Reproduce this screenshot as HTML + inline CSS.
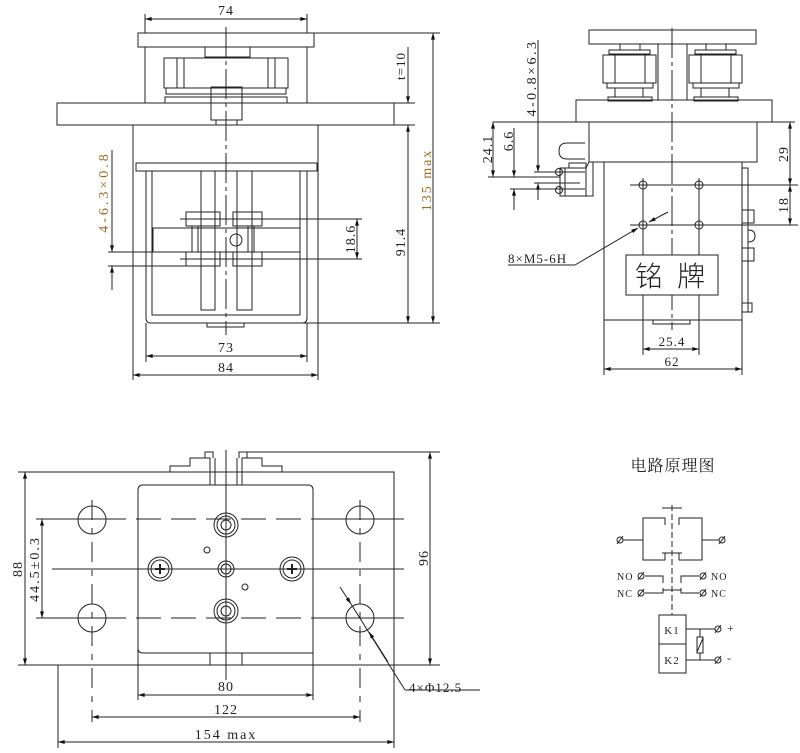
<!DOCTYPE html>
<html><head><meta charset="utf-8"><style>
html,body{margin:0;padding:0;background:#fff;}
svg{display:block;}
text{font-family:"Liberation Serif","Noto Serif CJK SC",serif;fill:#222;letter-spacing:1px;}
</style></head><body>
<svg width="800" height="753" viewBox="0 0 800 753" xmlns="http://www.w3.org/2000/svg">
<defs>
<marker id="a" viewBox="0 0 10 6" refX="10" refY="3" markerWidth="7" markerHeight="4" orient="auto-start-reverse" markerUnits="userSpaceOnUse"><path d="M0,0 L10,3 L0,6 z" fill="#111"/></marker>
</defs>
<g fill="none" stroke="#222" stroke-width="1">
<!-- ========== FRONT VIEW ========== -->
<rect x="138" y="33" width="176" height="14"/>
<line x1="145" y1="47" x2="145" y2="103"/><line x1="307" y1="47" x2="307" y2="103"/>
<rect x="205" y="47" width="45" height="10"/>
<rect x="164" y="58" width="124" height="30"/>
<line x1="177" y1="58" x2="177" y2="88"/><line x1="275" y1="58" x2="275" y2="88"/>
<line x1="184" y1="58" x2="184" y2="88"/><line x1="268" y1="58" x2="268" y2="88"/>
<rect x="166" y="88" width="120" height="6"/>
<rect x="165" y="97" width="122" height="6"/>
<rect x="57" y="103" width="337" height="22"/>
<rect x="211" y="87" width="31" height="33"/>
<rect x="216" y="120" width="21" height="5"/>
<line x1="133" y1="125" x2="133" y2="380"/><line x1="318" y1="125" x2="318" y2="380"/>
<rect x="136" y="163" width="181" height="8"/>
<path d="M146,171 V318 Q146,323 151,323 H302 Q307,323 307,318 V171"/>
<rect x="152" y="171" width="148" height="144"/>
<rect x="207" y="323" width="37" height="4"/>
<rect x="153" y="228" width="147" height="24"/>
<rect x="201" y="171" width="14" height="139"/><rect x="237" y="171" width="15" height="139"/>
<rect x="186" y="212" width="34" height="14"/><rect x="186" y="252" width="34" height="14"/>
<rect x="233" y="212" width="29" height="14"/><rect x="233" y="252" width="29" height="14"/>
<rect x="192" y="226" width="6" height="26"/><rect x="248" y="226" width="6" height="26"/>
<circle cx="236" cy="240" r="6"/>
<line x1="226" y1="27" x2="226" y2="335" stroke-dasharray="30,4,4,4"/>
<!-- dims front -->
<line x1="145" y1="19" x2="307" y2="19" marker-start="url(#a)" marker-end="url(#a)"/>
<line x1="145" y1="14" x2="145" y2="33"/><line x1="307" y1="14" x2="307" y2="33"/>
<line x1="314" y1="33" x2="440" y2="33"/>
<line x1="394" y1="103" x2="415" y2="103"/><line x1="394" y1="125" x2="415" y2="125"/>
<line x1="408" y1="47" x2="408" y2="103" marker-end="url(#a)"/>
<line x1="408" y1="125" x2="408" y2="323" marker-start="url(#a)" marker-end="url(#a)"/>
<line x1="433" y1="33" x2="433" y2="323" marker-start="url(#a)" marker-end="url(#a)"/>
<line x1="300" y1="323" x2="440" y2="323"/>
<line x1="180" y1="219" x2="362" y2="219"/><line x1="180" y1="259" x2="362" y2="259"/>
<line x1="357" y1="219" x2="357" y2="259" marker-start="url(#a)" marker-end="url(#a)"/>
<line x1="108" y1="252" x2="200" y2="252"/><line x1="108" y1="266" x2="200" y2="266"/>
<line x1="112" y1="150" x2="112" y2="252" marker-end="url(#a)"/>
<line x1="112" y1="266" x2="112" y2="290" marker-start="url(#a)"/>
<line x1="146" y1="323" x2="146" y2="362"/><line x1="307" y1="323" x2="307" y2="362"/>
<line x1="146" y1="356" x2="307" y2="356" marker-start="url(#a)" marker-end="url(#a)"/>
<line x1="133" y1="375" x2="318" y2="375" marker-start="url(#a)" marker-end="url(#a)"/>

<!-- ========== SIDE VIEW ========== -->
<rect x="589" y="30" width="167" height="14"/>
<line x1="658" y1="44" x2="658" y2="100"/><line x1="687" y1="44" x2="687" y2="100"/>
<g id="nut">
<rect x="620" y="44" width="20" height="6"/>
<rect x="609" y="50" width="41" height="4"/>
<rect x="603" y="55" width="53" height="28"/>
<line x1="615" y1="55" x2="615" y2="83"/><line x1="645" y1="55" x2="645" y2="83"/>
<rect x="607" y="83" width="46" height="5"/>
<rect x="615" y="88" width="28" height="9"/>
<rect x="608" y="97" width="44" height="4"/>
</g>
<use href="#nut" x="86"/>
<rect x="576" y="100" width="196" height="22"/>
<line x1="493" y1="122" x2="795" y2="122"/>
<rect x="589" y="122" width="168" height="40"/>
<rect x="604" y="162" width="138" height="158"/>
<line x1="604" y1="320" x2="604" y2="375"/><line x1="742" y1="320" x2="742" y2="375"/>
<rect x="653" y="320" width="37" height="4"/>
<rect x="742" y="168" width="6" height="144"/>
<rect x="742" y="210" width="12" height="13"/><rect x="742" y="248" width="12" height="13"/>
<path d="M748,230 q7,0 7,6 q0,6 -7,6"/>
<rect x="742" y="303" width="10" height="9"/>
<path d="M585,143 H567 q-8,0 -8,8 q0,8 8,8 H585"/>
<rect x="569" y="163" width="17" height="5"/>
<rect x="560" y="168" width="26" height="28"/>
<line x1="586" y1="168" x2="586" y2="196"/>
<path d="M589,162 L586,168 M593,162 V196 H586"/>
<circle cx="559" cy="172" r="3.5"/><circle cx="559" cy="190" r="3.5"/>
<line x1="565" y1="168" x2="565" y2="196"/>
<line x1="672" y1="28" x2="672" y2="330" stroke-dasharray="30,4,4,4"/>
<circle cx="643" cy="185" r="4"/><circle cx="699" cy="185" r="4"/>
<circle cx="643" cy="225" r="4"/><circle cx="699" cy="225" r="4"/>
<line x1="643" y1="178" x2="643" y2="355"/><line x1="699" y1="178" x2="699" y2="355"/>
<line x1="630" y1="185" x2="798" y2="185"/><line x1="630" y1="225" x2="798" y2="225"/>
<rect x="626" y="255" width="92" height="40" fill="#fff"/>
<line x1="790" y1="122" x2="790" y2="185" marker-start="url(#a)" marker-end="url(#a)"/>
<line x1="790" y1="185" x2="790" y2="225" marker-start="url(#a)" marker-end="url(#a)"/>
<line x1="643" y1="349" x2="699" y2="349" marker-start="url(#a)" marker-end="url(#a)"/>
<line x1="604" y1="369" x2="742" y2="369" marker-start="url(#a)" marker-end="url(#a)"/>
<line x1="493" y1="122" x2="493" y2="177" marker-start="url(#a)" marker-end="url(#a)"/>
<line x1="488" y1="177" x2="560" y2="177"/>
<line x1="514" y1="128" x2="514" y2="177" marker-end="url(#a)"/>
<line x1="514" y1="189" x2="514" y2="210" marker-start="url(#a)"/>
<line x1="510" y1="189" x2="585" y2="189"/>
<line x1="538" y1="40" x2="538" y2="172" marker-end="url(#a)"/>
<line x1="538" y1="183" x2="538" y2="200" marker-start="url(#a)"/>
<line x1="534" y1="172" x2="585" y2="172"/>
<line x1="534" y1="183" x2="580" y2="183"/>
<line x1="508" y1="265" x2="575" y2="265"/><line x1="575" y1="265" x2="638" y2="228" marker-end="url(#a)"/>
<line x1="668" y1="212" x2="649" y2="222" marker-end="url(#a)"/>

<!-- ========== BOTTOM VIEW ========== -->
<path d="M58,472 H394 V665 H242 M210,665 H58 Z"/>
<path d="M138,653 V490 Q138,485 143,485 H308 Q313,485 313,490 V653 Q313,653 308,653 H143 Q138,653 138,648"/>
<line x1="210" y1="653" x2="210" y2="665"/><line x1="242" y1="653" x2="242" y2="665"/>
<line x1="138" y1="653" x2="138" y2="700"/><line x1="313" y1="653" x2="313" y2="700"/>
<path d="M170,472 V466 H190 V458 H210 V485 M282,472 V466 H262 V458 H242 V485"/>
<path d="M205,458 V452 h8 v6 M239,458 V452 h8 v6"/>
<line x1="215" y1="458" x2="215" y2="485"/><line x1="237" y1="458" x2="237" y2="485"/>
<line x1="247" y1="452" x2="440" y2="452"/>
<circle cx="92" cy="520" r="14"/><circle cx="360" cy="520" r="14"/>
<circle cx="92" cy="618" r="14"/><circle cx="360" cy="618" r="14"/>
<circle cx="226" cy="525" r="12"/><circle cx="226" cy="525" r="9"/><circle cx="226" cy="525" r="5"/>
<circle cx="226" cy="611" r="12"/><circle cx="226" cy="611" r="9"/><circle cx="226" cy="611" r="5"/>
<circle cx="160" cy="569" r="12"/><circle cx="160" cy="569" r="9"/>
<circle cx="292" cy="569" r="12"/><circle cx="292" cy="569" r="9"/>
<path d="M155,569 h10 M160,564 v10 M287,569 h10 M292,564 v10" stroke-width="2"/>
<circle cx="226" cy="569" r="8"/><circle cx="226" cy="569" r="5"/>
<circle cx="207" cy="550" r="3"/><circle cx="245" cy="587" r="3"/>
<line x1="36" y1="519" x2="404" y2="519" stroke-dasharray="90,10,25,10,25,10,25,10,25,10,25,10,200"/>
<line x1="36" y1="618" x2="404" y2="618" stroke-dasharray="90,10,25,10,25,10,25,10,25,10,25,10,200"/>
<line x1="52" y1="569" x2="404" y2="569"/>
<line x1="226" y1="450" x2="226" y2="680"/>
<line x1="92" y1="500" x2="92" y2="722" stroke-dasharray="20,8,6,8"/>
<line x1="360" y1="500" x2="360" y2="722" stroke-dasharray="20,8,6,8"/>
<line x1="18" y1="472" x2="58" y2="472"/><line x1="18" y1="665" x2="440" y2="665"/>
<line x1="25" y1="472" x2="25" y2="665" marker-start="url(#a)" marker-end="url(#a)"/>
<line x1="42" y1="519" x2="42" y2="618" marker-start="url(#a)" marker-end="url(#a)"/>
<line x1="430" y1="452" x2="430" y2="665" marker-start="url(#a)" marker-end="url(#a)"/>
<line x1="138" y1="695" x2="313" y2="695" marker-start="url(#a)" marker-end="url(#a)"/>
<line x1="92" y1="717" x2="360" y2="717" marker-start="url(#a)" marker-end="url(#a)"/>
<line x1="58" y1="665" x2="58" y2="748"/><line x1="394" y1="665" x2="394" y2="748"/>
<line x1="58" y1="742" x2="394" y2="742" marker-start="url(#a)" marker-end="url(#a)"/>
<line x1="340" y1="587" x2="351" y2="604" marker-end="url(#a)"/>
<line x1="351" y1="604" x2="405" y2="690"/>
<line x1="388" y1="662" x2="369" y2="632" marker-end="url(#a)"/>
<line x1="405" y1="690" x2="480" y2="690"/>

<!-- ========== CIRCUIT ========== -->
<line x1="662" y1="508" x2="682" y2="508"/>
<path d="M665,525 V518 H643 V560 H665 V553"/>
<path d="M679,525 V518 H702 V560 H679 V553"/>
<line x1="662" y1="553" x2="682" y2="553"/>
<line x1="623" y1="540" x2="643" y2="540"/><line x1="702" y1="540" x2="719" y2="540"/>
<line x1="672" y1="505" x2="672" y2="615" stroke-dasharray="6,3"/>
<path d="M645,576 H663 V583 M699,576 H681 V583"/>
<path d="M645,593 H663 V588 M699,593 H681 V588 M663,590 H681"/>
<rect x="659" y="615" width="27" height="58"/>
<line x1="659" y1="644" x2="686" y2="644"/>
<line x1="686" y1="629" x2="715" y2="629"/><line x1="686" y1="660" x2="715" y2="660"/>
<line x1="700" y1="629" x2="700" y2="660"/>
<rect x="697" y="637" width="6" height="16" fill="#fff"/>
<line x1="697" y1="652" x2="703" y2="638"/>
</g>
<g fill="none" stroke="#222" stroke-width="1">
<circle cx="620" cy="540" r="3"/><line x1="617" y1="544" x2="623" y2="536"/>
<circle cx="722" cy="540" r="3"/><line x1="719" y1="544" x2="725" y2="536"/>
<circle cx="641" cy="576" r="3"/><line x1="638" y1="580" x2="644" y2="572"/>
<circle cx="641" cy="593" r="3"/><line x1="638" y1="597" x2="644" y2="589"/>
<circle cx="703" cy="576" r="3"/><line x1="700" y1="580" x2="706" y2="572"/>
<circle cx="703" cy="593" r="3"/><line x1="700" y1="597" x2="706" y2="589"/>
<circle cx="718" cy="629" r="3"/><line x1="715" y1="633" x2="721" y2="625"/>
<circle cx="718" cy="660" r="3"/><line x1="715" y1="664" x2="721" y2="656"/>
</g>
<g font-size="14">
<text x="226" y="15" text-anchor="middle">74</text>
<text x="226" y="352" text-anchor="middle">73</text>
<text x="226" y="372" text-anchor="middle">84</text>
<text transform="translate(405,80) rotate(-90)" font-size="13">t=10</text>
<text transform="translate(405,242) rotate(-90)" text-anchor="middle">91.4</text>
<text transform="translate(431,180) rotate(-90)" text-anchor="middle" style="fill:#9a6a2a;letter-spacing:2px">135 max</text>
<text transform="translate(355,239) rotate(-90)" text-anchor="middle">18.6</text>
<text transform="translate(108,192) rotate(-90)" text-anchor="middle" style="fill:#9a6a2a;letter-spacing:3px">4-6.3×0.8</text>
<text transform="translate(536,78) rotate(-90)" text-anchor="middle" style="letter-spacing:2.5px">4-0.8×6.3</text>
<text transform="translate(492,149) rotate(-90)" text-anchor="middle">24.1</text>
<text transform="translate(513,141) rotate(-90)" text-anchor="middle">6.6</text>
<text transform="translate(788,154) rotate(-90)" text-anchor="middle">29</text>
<text transform="translate(788,205) rotate(-90)" text-anchor="middle">18</text>
<text x="508" y="263" font-size="13">8×M5-6H</text>
<text x="672" y="346" text-anchor="middle" font-size="13">25.4</text>
<text x="672" y="366" text-anchor="middle" font-size="13">62</text>
<text x="672" y="286" text-anchor="middle" font-size="28" style="font-family:'Noto Sans CJK SC',sans-serif;font-weight:300;letter-spacing:4px">铭 牌</text>
<text transform="translate(22,569) rotate(-90)" text-anchor="middle">88</text>
<text transform="translate(39,569) rotate(-90)" text-anchor="middle" style="letter-spacing:2px">44.5±0.3</text>
<text transform="translate(428,558) rotate(-90)" text-anchor="middle">96</text>
<text x="226" y="691" text-anchor="middle">80</text>
<text x="226" y="714" text-anchor="middle">122</text>
<text x="226" y="739" text-anchor="middle" style="letter-spacing:2px">154 max</text>
<text x="409" y="692" font-size="13">4×Φ12.5</text>
<text x="673" y="471" text-anchor="middle" font-size="16" style="font-family:'Noto Serif CJK SC',serif">电路原理图</text>
<text x="617" y="580" font-size="10">NO</text>
<text x="617" y="597" font-size="10">NC</text>
<text x="711" y="580" font-size="10">NO</text>
<text x="711" y="597" font-size="10">NC</text>
<text x="672" y="634" text-anchor="middle" font-size="11">K1</text>
<text x="672" y="664" text-anchor="middle" font-size="11">K2</text>
<text x="727" y="632" font-size="12">+</text>
<text x="727" y="662" font-size="12">-</text>
</g>
</svg>
</body></html>
